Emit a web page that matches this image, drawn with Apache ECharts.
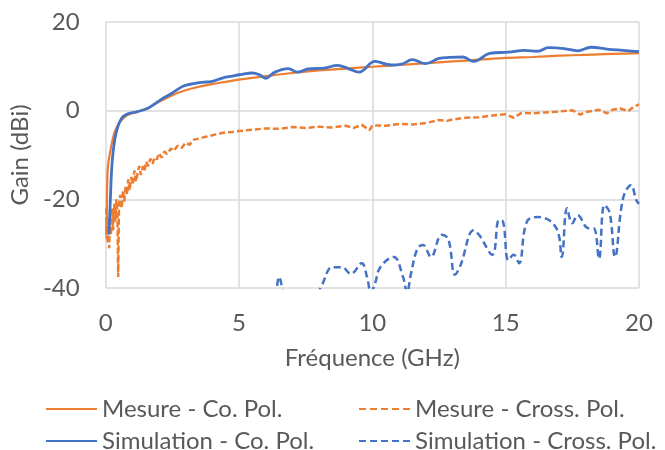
<!DOCTYPE html>
<html>
<head>
<meta charset="utf-8">
<title>Gain</title>
<script src="https://cdn.jsdelivr.net/npm/echarts@6/dist/echarts.min.js"></script>
<style>
    html, body { margin: 0; padding: 0; background: #fff; }
    #content { width: 665px; height: 450px; }
</style>
</head>
<body>
<div id="content"></div>
<script>
// Mesure - Co. Pol.
var mesCoFreq = [0.02, 0.03, 0.04, 0.05, 0.06, 0.08, 0.12, 0.18, 0.22, 0.34, 0.53, 0.78, 1.0, 1.2, 1.6, 2.0, 2.5, 3.0, 3.5, 4.0, 4.5, 5.0, 5.5, 6.0, 7.0, 8.0, 9.0, 10.0, 11.0, 12.0, 13.0, 14.0, 15.0, 16.0, 17.0, 18.0, 19.0, 20.0];
var mesCoGain = [-28, -24, -27, -19, -16, -13, -11, -9, -7.7, -4.8, -2.6, -1.1, -0.6, -0.2, 0.6, 2.0, 3.5, 4.6, 5.4, 6.0, 6.5, 7.0, 7.4, 7.8, 8.5, 9.1, 9.5, 9.9, 10.3, 10.7, 11.1, 11.5, 11.9, 12.1, 12.4, 12.6, 12.8, 13.0];

// Mesure - Cross. Pol. (bruité)
var mesXFreq = [0.02, 0.04, 0.06, 0.08, 0.1, 0.13, 0.16, 0.2, 0.24, 0.28, 0.32, 0.36, 0.4, 0.44, 0.47, 0.5, 0.55, 0.6, 0.65, 0.7, 0.75, 0.8, 0.85, 0.9, 0.96, 1.02, 1.08, 1.14, 1.2, 1.26, 1.32, 1.4, 1.46, 1.52, 1.6, 1.68, 1.76, 1.84, 1.92, 2.0, 2.1, 2.2, 2.3, 2.45, 2.55, 2.7, 2.85, 3.0, 3.15, 3.26, 3.5, 3.75, 4.1, 4.4, 4.75, 5.0, 5.5, 6.0, 6.5, 7.0, 7.5, 8.0, 8.5, 9.0, 9.3, 9.6, 9.9, 10.0, 10.5, 11.0, 11.5, 12.0, 12.5, 12.8, 13.0, 13.5, 14.0, 14.5, 15.0, 15.3, 15.6, 16.0, 16.5, 17.0, 17.5, 17.8, 18.0, 18.5, 18.8, 19.0, 19.3, 19.6, 19.8, 20.0];
var mesXGain = [-22, -29, -24, -30, -26, -31, -25, -28, -22, -27, -21, -25, -20, -23, -37.5, -21, -19, -22, -18, -20.5, -17, -19, -15.5, -18, -15, -16.5, -13.5, -16, -14, -12.5, -14.5, -12.5, -13.5, -11.5, -12.5, -10.8, -12, -10.5, -11, -9.6, -10.6, -9.2, -9.8, -8.5, -9.1, -7.9, -8.4, -7.2, -7.7, -6.6, -6.3, -5.9, -5.4, -5.0, -4.8, -4.6, -4.3, -4.0, -4.1, -3.7, -3.9, -3.6, -3.8, -3.4, -3.9, -3.2, -4.4, -3.3, -3.4, -3.0, -3.1, -2.8, -2.1, -2.3, -2.0, -1.6, -1.5, -1.1, -0.8, -1.6, -0.5, -0.6, -0.4, -0.2, 0.1, -0.9, -0.3, 0.2, -0.6, 0.2, 0.5, -0.1, 0.9, 1.4];

// Simulation - Co. Pol.
var simCoFreq = [0.12, 0.17, 0.22, 0.28, 0.4, 0.6, 0.84, 1.2, 1.6, 2.1, 2.5, 2.9, 3.3, 3.6, 4.0, 4.4, 4.75, 5.0, 5.5, 5.8, 6.0, 6.35, 6.85, 7.2, 7.6, 8.2, 8.7, 9.1, 9.5, 10.1, 10.7, 11.1, 11.5, 12.0, 12.5, 12.9, 13.4, 13.8, 14.4, 15.1, 15.7, 16.2, 16.6, 17.2, 17.7, 18.2, 18.8, 19.4, 20.0];
var simCoGain = [-28, -21, -13.8, -9.3, -4.8, -1.7, -0.7, -0.2, 0.6, 2.6, 4.0, 5.5, 6.1, 6.4, 6.6, 7.4, 7.8, 8.1, 8.5, 8.0, 7.3, 8.7, 9.5, 8.7, 9.4, 9.6, 10.2, 9.5, 8.7, 11.1, 10.3, 10.5, 11.5, 10.6, 11.8, 12.0, 12.1, 11.1, 12.9, 13.2, 13.6, 13.4, 14.2, 14.0, 13.5, 14.3, 13.9, 13.6, 13.3];

// Simulation - Cross. Pol.
var simXFreq = [6.4, 6.5, 6.65, 6.9, 7.4, 7.9, 8.1, 8.5, 8.85, 9.2, 9.6, 9.8, 9.95, 10.1, 10.3, 10.8, 11.15, 11.3, 11.45, 11.7, 11.9, 12.2, 12.6, 12.85, 13.1, 13.3, 13.8, 14.0, 14.5, 14.75, 14.9, 15.1, 15.3, 15.5, 15.8, 16.25, 16.9, 17.1, 17.3, 17.5, 17.7, 18.1, 18.3, 18.5, 18.7, 18.9, 19.1, 19.4, 19.7, 19.9, 20.0];
var simXGain = [-42, -37.5, -40.5, -46, -48, -42, -39.5, -35.3, -35.3, -36.8, -34.4, -37.5, -41, -39, -35.3, -33, -37.5, -41, -36.7, -31, -30.3, -33, -28, -29, -37, -35, -27, -28, -32.5, -24.7, -25, -33.7, -32.5, -34.4, -25, -24, -26.5, -33, -22, -25.4, -23.6, -26.5, -26.5, -33.4, -21.3, -23, -33, -19.8, -16.8, -20.2, -21];

var xTicks = [0, 5, 10, 15, 20];
var yTicks = [-40, -20, 0, 20];

var orange = "#ED7D31";
var blue = "#4472C4";
var textColor = "#595959";
var font = "Lato";
var fontSize = 24;

// assemble [x, y] pairs
function pairs(xs, ys) {
    var out = [];
    for (var i = 0; i < xs.length; i++) {
        out.push([xs[i], ys[i]]);
    }
    return out;
}

// one legend per entry so each one sits where Excel put it
function legendItem(name, left, top, dashed) {
    var item = {
        left: left,
        top: top,
        padding: 0,
        itemWidth: 51,
        itemHeight: 14,
        data: [name],
        itemStyle: { color: "rgba(0,0,0,0)", borderWidth: 0 },
        textStyle: { fontSize: fontSize, color: textColor, fontFamily: font },
    };
    if (dashed) {
        item.lineStyle = { type: [7, 4] };
    }
    return item;
}

var myChart = echarts.init(document.getElementById("content"), null, { renderer: "canvas" });

myChart.setOption({
    animation: false,
    textStyle: { fontFamily: font },
    grid: { left: 103, right: 26, top: 22, bottom: 162 },
    legend: [
        legendItem("Mesure - Co. Pol.", 45, 397, false),
        legendItem("Simulation - Co. Pol.", 45, 429, false),
        legendItem("Mesure - Cross. Pol.", 358, 397, true),
        legendItem("Simulation - Cross. Pol.", 358, 429, true),
    ],
    xAxis: {
        type: "value",
        min: xTicks[0],
        max: xTicks[xTicks.length - 1],
        interval: 5,
        name: "Fréquence (GHz)",
        nameLocation: "middle",
        nameGap: 58,
        nameTextStyle: { fontSize: fontSize, color: textColor },
        axisLine: { show: false },
        axisTick: { show: false },
        axisLabel: { fontSize: fontSize, color: textColor, margin: 23 },
        splitLine: { show: true, lineStyle: { color: "#D9D9D9", width: 1.5 } },
    },
    yAxis: {
        type: "value",
        min: yTicks[0],
        max: yTicks[yTicks.length - 1],
        interval: 20,
        name: "Gain (dBi)",
        nameLocation: "middle",
        nameGap: 68,
        nameTextStyle: { fontSize: fontSize, color: textColor },
        axisLine: { show: false },
        axisTick: { show: false },
        axisLabel: { fontSize: fontSize, color: textColor, margin: 26 },
        splitLine: { show: true, lineStyle: { color: "#D9D9D9", width: 1.5 } },
    },
    series: [{
        name: "Mesure - Co. Pol.",
        type: "line",
        data: pairs(mesCoFreq, mesCoGain),
        symbol: "none",
        smooth: 0.3,
        lineStyle: { color: orange, width: 2.2 },
        itemStyle: { color: orange },
    }, {
        name: "Mesure - Cross. Pol.",
        type: "line",
        data: pairs(mesXFreq, mesXGain),
        symbol: "none",
        lineStyle: { color: orange, width: 2.5, type: [6, 3] },
        itemStyle: { color: orange },
    }, {
        name: "Simulation - Co. Pol.",
        type: "line",
        data: pairs(simCoFreq, simCoGain),
        symbol: "none",
        smooth: 0.4,
        lineStyle: { color: blue, width: 2.8 },
        itemStyle: { color: blue },
    }, {
        name: "Simulation - Cross. Pol.",
        type: "line",
        data: pairs(simXFreq, simXGain),
        symbol: "none",
        smooth: 0.4,
        lineStyle: { color: blue, width: 2.5, type: [7, 4] },
        itemStyle: { color: blue },
    }],
});
</script>
</body>
</html>
